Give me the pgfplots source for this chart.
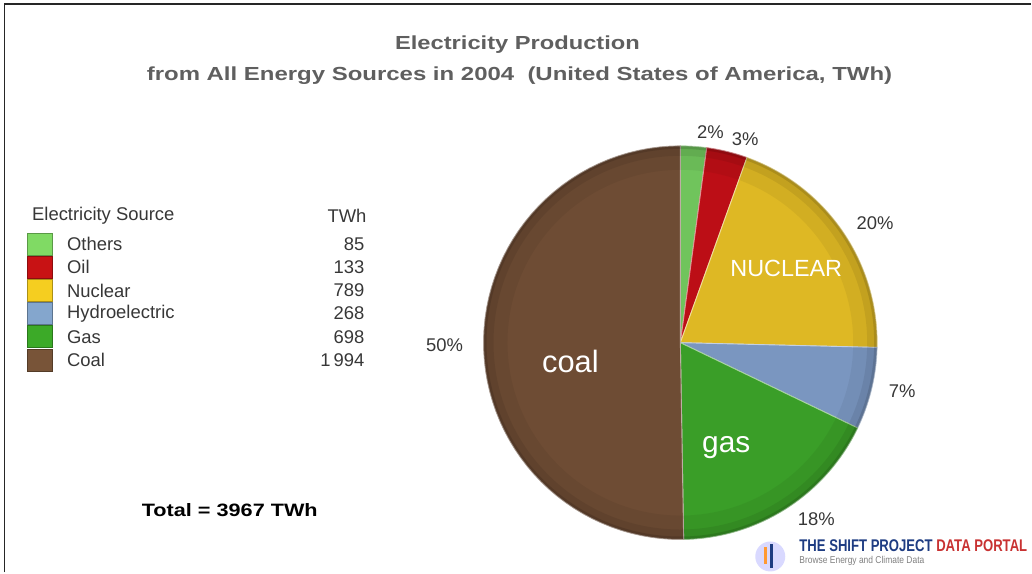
\documentclass[border=0pt]{standalone}
\usepackage{pgfplots}
\pgfplotsset{compat=1.18}
\usepackage{pgfplotstable}
\usepackage{graphicx}
\usepackage{fontspec}
\setmainfont{Liberation Sans}

\definecolor{cOthers}{RGB}{112,196,92}
\definecolor{cOil}{RGB}{188,14,22}
\definecolor{cNuclear}{RGB}{222,184,36}
\definecolor{cHydro}{RGB}{122,150,192}
\definecolor{cGas}{RGB}{58,158,40}
\definecolor{cCoal}{RGB}{110,76,52}
\definecolor{lOthers}{RGB}{128,218,100}
\definecolor{lOil}{RGB}{200,18,20}
\definecolor{lNuclear}{RGB}{245,206,32}
\definecolor{lHydro}{RGB}{132,166,205}
\definecolor{lGas}{RGB}{60,170,40}
\definecolor{lCoal}{RGB}{120,84,56}
\definecolor{titlegray}{RGB}{95,95,95}
\definecolor{txtgray}{RGB}{55,55,55}
\definecolor{logoblue}{RGB}{30,60,130}
\definecolor{logored}{RGB}{200,50,50}

\pgfplotstableread{
source TWh
Others 85
Oil 133
Nuclear 789
Hydroelectric 268
Gas 698
Coal 1994
}\energy

\pgfplotstablegetelem{0}{TWh}\of\energy \let\vA\pgfplotsretval
\pgfplotstablegetelem{1}{TWh}\of\energy \let\vB\pgfplotsretval
\pgfplotstablegetelem{2}{TWh}\of\energy \let\vC\pgfplotsretval
\pgfplotstablegetelem{3}{TWh}\of\energy \let\vD\pgfplotsretval
\pgfplotstablegetelem{4}{TWh}\of\energy \let\vE\pgfplotsretval
\pgfplotstablegetelem{5}{TWh}\of\energy \let\vF\pgfplotsretval
\pgfmathsetmacro\tot{\vA+\vB+\vC+\vD+\vE+\vF}
\pgfmathsetmacro\aA{90}
\pgfmathsetmacro\aB{\aA-360*(\vA/\tot)}
\pgfmathsetmacro\aC{\aB-360*(\vB/\tot)}
\pgfmathsetmacro\aD{\aC-360*(\vC/\tot)}
\pgfmathsetmacro\aE{\aD-360*(\vD/\tot)}
\pgfmathsetmacro\aF{\aE-360*(\vE/\tot)}
\pgfmathsetmacro\aG{\aF-360*(\vF/\tot)}

\newcommand{\pieslice}[3]{%
  \addplot[fill=#1, draw=white!55!#1, line width=0.9pt, domain=#2:#3, samples=60, variable=\ang]
    ({681+197*cos(\ang)},{230+197*sin(\ang)}) -- (axis cs:681,230) -- cycle;}
% legend row: color, y (axis units), name, value
\newcommand{\legrow}[4]{%
  \fill[#1, draw=#1!70!black, line width=0.6pt] (axis cs:27.5,#2-11) rectangle (axis cs:52.5,#2+11);
  \node[anchor=west, inner sep=0pt, text=txtgray, font=\fontsize{18.5}{18.5}\selectfont] at (axis cs:67,#2) {#3};
  \node[anchor=east, inner sep=0pt, text=txtgray, font=\fontsize{18.5}{18.5}\selectfont] at (axis cs:365,#2) {#4};}

\begin{document}
\begin{tikzpicture}
\begin{axis}[
  scale only axis, width=1032bp, height=573bp,
  xmin=0, xmax=1032, ymin=0, ymax=573,
  hide axis, clip=false]

% full page extent
\path (axis cs:0,0) rectangle (axis cs:1032,573);

% frame
\draw[black!85, line width=2pt] (axis cs:4.5,0) -- (axis cs:4.5,568.5) -- (axis cs:1032,568.5);

% title
\node[text=titlegray, font=\bfseries\fontsize{19}{19}\selectfont] at (axis cs:518,528.5)
  {\resizebox{245bp}{\height}{Electricity Production}};
\node[text=titlegray, font=\bfseries\fontsize{19}{19}\selectfont] at (axis cs:520,497.5)
  {\resizebox{746bp}{\height}{from All Energy Sources in 2004\ \ (United States of America, TWh)}};

% pie
\pieslice{cOthers}{\aB}{\aA}
\pieslice{cOil}{\aC}{\aB}
\pieslice{cNuclear}{\aD}{\aC}
\pieslice{cHydro}{\aE}{\aD}
\pieslice{cGas}{\aF}{\aE}
\pieslice{cCoal}{\aG}{\aF}
\draw[black, opacity=0.05, line width=24pt] (axis cs:681,230) circle[radius=185];
\draw[black, opacity=0.07, line width=10pt] (axis cs:681,230) circle[radius=192];
\draw[black, opacity=0.12, line width=3pt] (axis cs:681,230) circle[radius=195.5];

% slice names
\node[text=white, font=\fontsize{31}{31}\selectfont] at (axis cs:571,211) {coal};
\node[text=white, font=\fontsize{30}{30}\selectfont] at (axis cs:727,125) {gas};
\node[text=white, font=\fontsize{23.5}{23.5}\selectfont] at (axis cs:787,304) {NUCLEAR};

% percentages
\node[text=txtgray, font=\fontsize{18.5}{18.5}\selectfont] at (axis cs:711,441) {2\%};
\node[text=txtgray, font=\fontsize{18.5}{18.5}\selectfont] at (axis cs:746,434) {3\%};
\node[text=txtgray, font=\fontsize{18.5}{18.5}\selectfont] at (axis cs:876,350) {20\%};
\node[text=txtgray, font=\fontsize{18.5}{18.5}\selectfont] at (axis cs:903,181) {7\%};
\node[text=txtgray, font=\fontsize{18.5}{18.5}\selectfont] at (axis cs:817,53) {18\%};
\node[text=txtgray, font=\fontsize{18.5}{18.5}\selectfont] at (axis cs:445,228) {50\%};

% legend
\node[anchor=west, inner sep=0pt, text=txtgray, font=\fontsize{18.5}{18.5}\selectfont] at (axis cs:32,357) {Electricity Source};
\node[anchor=east, inner sep=0pt, text=txtgray, font=\fontsize{18.5}{18.5}\selectfont] at (axis cs:367,357) {TWh};
\legrow{lOthers}{328.7}{Others}{85}
\legrow{lOil}{305.5}{Oil}{133}
\legrow{lNuclear}{282.3}{Nuclear}{789}
\legrow{lHydro}{259.1}{Hydroelectric}{268}
\legrow{lGas}{235.9}{Gas}{698}
\legrow{lCoal}{212.7}{Coal}{1\,994}

% total
\node[font=\bfseries\fontsize{18}{18}\selectfont, text=black] at (axis cs:230,62)
  {\resizebox{176bp}{\height}{Total = 3967 TWh}};

% logo
\fill[blue!15] (axis cs:771,16) circle[radius=15];
\fill[orange!80] (axis cs:765,8) rectangle (axis cs:768,25);
\fill[logoblue] (axis cs:771,4) rectangle (axis cs:774,28);
\node[anchor=west, inner sep=0pt, font=\bfseries\fontsize{17}{17}\selectfont] at (axis cs:800,26.5)
  {\resizebox{228bp}{\height}{\textcolor{logoblue}{THE SHIFT PROJECT} \textcolor{logored}{DATA PORTAL}}};
\node[anchor=west, inner sep=0pt, text=gray, font=\fontsize{10}{10}\selectfont] at (axis cs:800,11.5)
  {\resizebox{125bp}{\height}{Browse Energy and Climate Data}};
\end{axis}
\end{tikzpicture}
\end{document}
